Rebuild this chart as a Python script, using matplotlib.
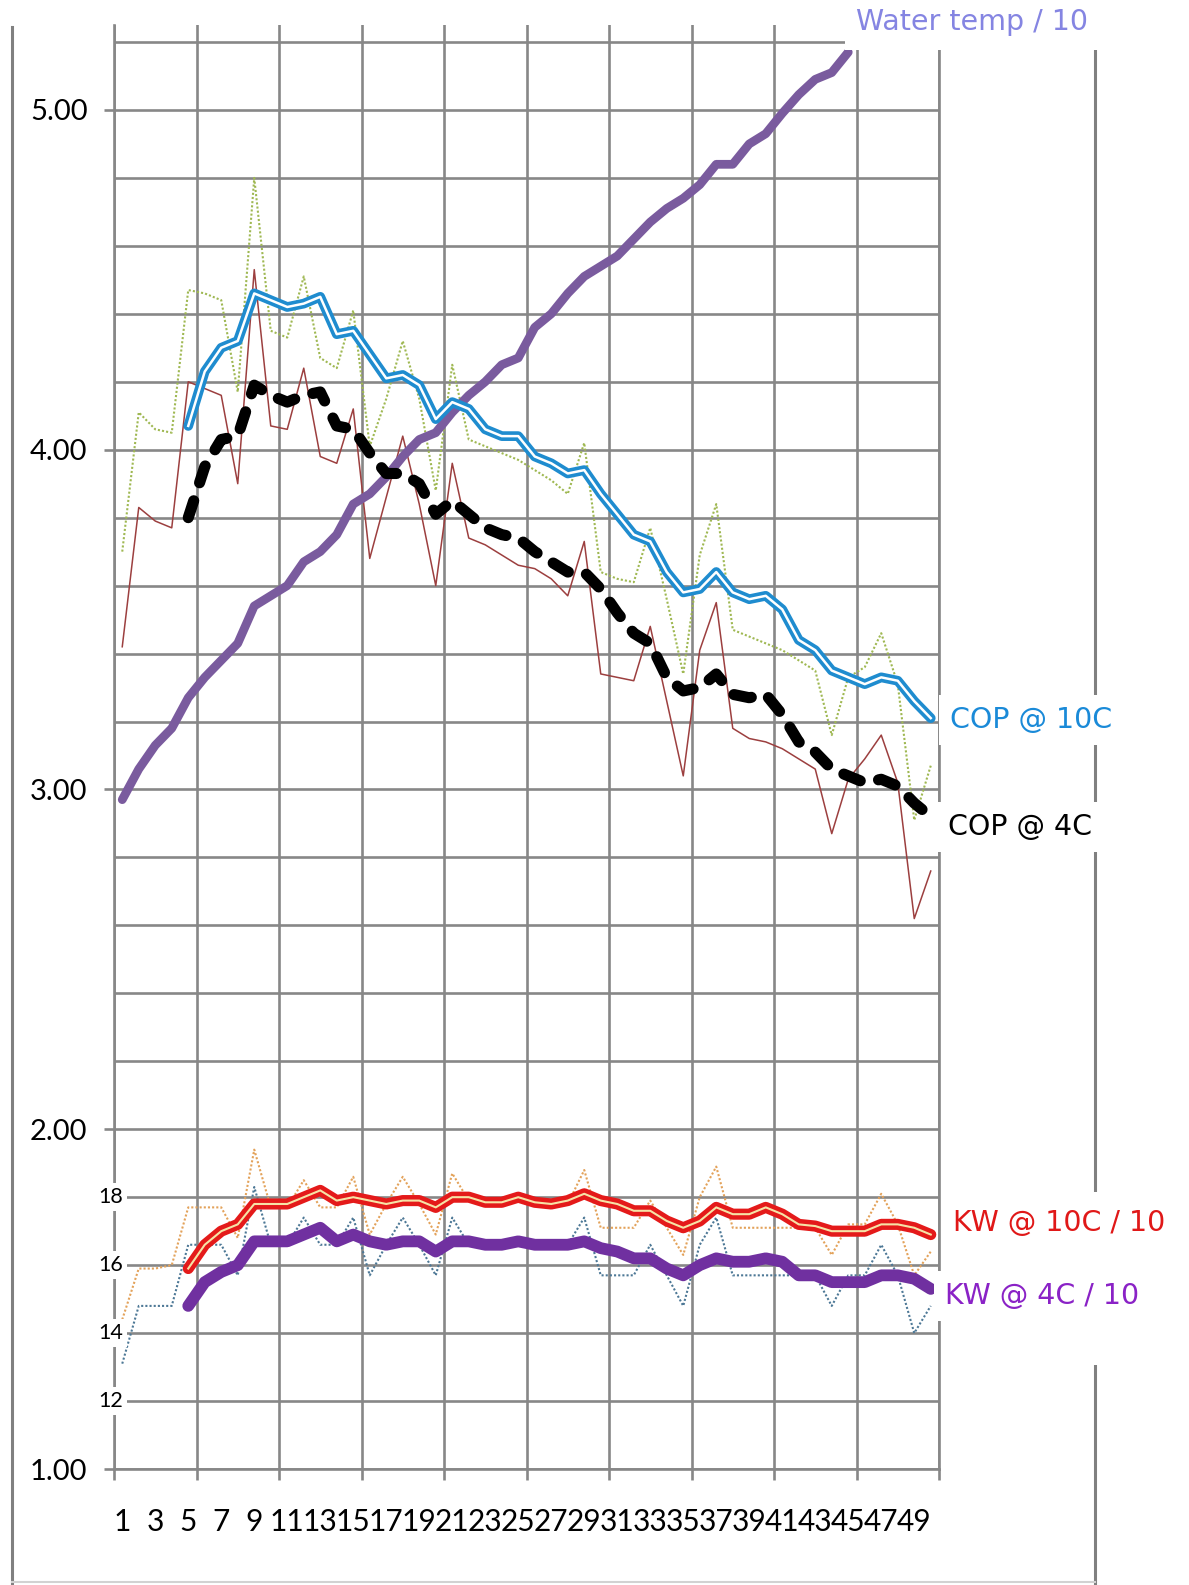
import matplotlib.pyplot as plt
from matplotlib.ticker import FixedLocator, FixedFormatter
from matplotlib.lines import Line2D
from matplotlib.patches import Rectangle

W, H = 1189, 1585

# readings: day number 1..50
days = list(range(1, 51))
avg_days = list(range(5, 51))
temp_days = list(range(1, 46))

water_temp = [2.97, 3.06, 3.13, 3.18, 3.27, 3.33, 3.38, 3.43, 3.54, 3.57,
              3.60, 3.67, 3.70, 3.75, 3.84, 3.87, 3.92, 3.98, 4.03, 4.05,
              4.11, 4.16, 4.20, 4.25, 4.27, 4.36, 4.40, 4.46, 4.51, 4.54,
              4.57, 4.62, 4.67, 4.71, 4.74, 4.78, 4.84, 4.84, 4.90, 4.93,
              4.99, 5.045, 5.09, 5.11, 5.17]

cop_10c_raw = [3.70, 4.11, 4.06, 4.05, 4.47, 4.46, 4.44, 4.17, 4.80, 4.35,
               4.33, 4.51, 4.27, 4.24, 4.41, 4.01, 4.15, 4.32, 4.15, 3.88,
               4.25, 4.03, 4.01, 3.99, 3.97, 3.94, 3.91, 3.87, 4.02, 3.64,
               3.62, 3.61, 3.77, 3.56, 3.34, 3.69, 3.84, 3.47, 3.45, 3.43,
               3.41, 3.38, 3.35, 3.16, 3.33, 3.36, 3.46, 3.31, 2.91, 3.07]

cop_4c_raw = [3.42, 3.83, 3.79, 3.77, 4.20, 4.18, 4.16, 3.90, 4.53, 4.07,
              4.06, 4.24, 3.98, 3.96, 4.12, 3.68, 3.86, 4.04, 3.84, 3.60,
              3.96, 3.74, 3.72, 3.69, 3.66, 3.65, 3.62, 3.57, 3.73, 3.34,
              3.33, 3.32, 3.48, 3.26, 3.04, 3.41, 3.55, 3.18, 3.15, 3.14,
              3.12, 3.09, 3.06, 2.87, 3.03, 3.09, 3.16, 3.02, 2.62, 2.76]

cop_10c_avg = [4.07, 4.23, 4.30, 4.32, 4.46, 4.44, 4.42, 4.43, 4.45, 4.34,
               4.35, 4.28, 4.21, 4.22, 4.19, 4.09, 4.14, 4.12, 4.06, 4.04,
               4.04, 3.98, 3.96, 3.93, 3.94, 3.87, 3.81, 3.75, 3.73, 3.64,
               3.58, 3.59, 3.64, 3.58, 3.56, 3.57, 3.53, 3.44, 3.41, 3.35,
               3.33, 3.31, 3.33, 3.32, 3.26, 3.21]

cop_4c_avg = [3.80, 3.95, 4.03, 4.04, 4.19, 4.16, 4.14, 4.16, 4.17, 4.07,
              4.06, 3.99, 3.93, 3.93, 3.90, 3.81, 3.85, 3.81, 3.77, 3.75,
              3.74, 3.70, 3.67, 3.64, 3.64, 3.59, 3.52, 3.46, 3.43, 3.33,
              3.29, 3.30, 3.34, 3.28, 3.27, 3.28, 3.22, 3.14, 3.11, 3.06,
              3.04, 3.02, 3.03, 3.01, 2.96, 2.92]

kw_10c_raw = [1.44, 1.59, 1.59, 1.60, 1.77, 1.77, 1.77, 1.68, 1.94, 1.77,
              1.77, 1.85, 1.77, 1.77, 1.86, 1.69, 1.78, 1.86, 1.78, 1.69,
              1.87, 1.79, 1.79, 1.79, 1.79, 1.79, 1.78, 1.78, 1.88, 1.71,
              1.71, 1.71, 1.79, 1.71, 1.63, 1.80, 1.89, 1.71, 1.71, 1.71,
              1.71, 1.71, 1.71, 1.63, 1.72, 1.72, 1.81, 1.72, 1.57, 1.64]

kw_4c_raw = [1.31, 1.48, 1.48, 1.48, 1.66, 1.66, 1.66, 1.57, 1.83, 1.66,
             1.66, 1.74, 1.66, 1.66, 1.74, 1.57, 1.66, 1.74, 1.66, 1.57,
             1.74, 1.66, 1.66, 1.66, 1.66, 1.66, 1.66, 1.66, 1.74, 1.57,
             1.57, 1.57, 1.66, 1.57, 1.48, 1.66, 1.74, 1.57, 1.57, 1.57,
             1.57, 1.57, 1.57, 1.48, 1.57, 1.57, 1.66, 1.57, 1.40, 1.48]

kw_10c_avg = [1.59, 1.66, 1.70, 1.72, 1.78, 1.78, 1.78, 1.80, 1.82, 1.79,
              1.80, 1.79, 1.78, 1.79, 1.79, 1.77, 1.80, 1.80, 1.785, 1.785,
              1.80, 1.785, 1.78, 1.79, 1.81, 1.79, 1.78, 1.76, 1.76, 1.73,
              1.71, 1.73, 1.77, 1.75, 1.75, 1.77, 1.75, 1.72, 1.715, 1.70,
              1.70, 1.70, 1.72, 1.72, 1.71, 1.69]

kw_4c_avg = [1.48, 1.55, 1.58, 1.60, 1.67, 1.67, 1.67, 1.69, 1.71, 1.67,
             1.69, 1.67, 1.66, 1.67, 1.67, 1.64, 1.67, 1.67, 1.66, 1.66,
             1.67, 1.66, 1.66, 1.66, 1.67, 1.65, 1.64, 1.62, 1.62, 1.59,
             1.57, 1.60, 1.62, 1.61, 1.61, 1.62, 1.61, 1.57, 1.57, 1.55,
             1.55, 1.55, 1.57, 1.57, 1.56, 1.53]

kw_labels = ["12", "14", "16", "18"]
kw_label_pos = [1.2, 1.4, 1.6, 1.8]


def fx(px):
    return px / W


def fy(py):
    return 1 - py / H


grid_col = "#878787"
tick_font = "Lato"
label_font = "DejaVu Sans"

fig = plt.figure(figsize=(W / 100, H / 100), dpi=100)
ax = fig.add_axes([fx(114), fy(1469), fx(939) - fx(114), fy(25) - fy(1469)])
ax.set_xlim(0.5, 50.5)
ax.set_ylim(1.0, 5.25)

# grid
ax.xaxis.set_major_locator(FixedLocator([0.5 + 5 * k for k in range(11)]))
ax.xaxis.set_minor_locator(FixedLocator(list(range(1, 50, 2))))
ax.xaxis.set_major_formatter(FixedFormatter([""] * 11))
ax.xaxis.set_minor_formatter(FixedFormatter([str(d) for d in range(1, 50, 2)]))
ax.yaxis.set_major_locator(FixedLocator([1, 2, 3, 4, 5]))
ax.yaxis.set_major_formatter(FixedFormatter(["1.00", "2.00", "3.00", "4.00", "5.00"]))
ax.yaxis.set_minor_locator(FixedLocator([1 + 0.2 * k for k in range(22)]))

ax.xaxis.grid(True, which="major", color=grid_col, lw=1.9)
ax.yaxis.grid(True, which="both", color=grid_col, lw=1.9)
ax.set_axisbelow(True)

ax.spines["top"].set_visible(False)
for side in ["left", "bottom", "right"]:
    ax.spines[side].set_color(grid_col)
    ax.spines[side].set_linewidth(1.9)

ax.tick_params(axis="x", which="major", length=8, width=1.9, color=grid_col)
ax.tick_params(axis="x", which="minor", length=0, pad=28, labelsize=21.5)
ax.tick_params(axis="y", which="major", length=7, width=1.9, color=grid_col,
               pad=12, labelsize=21)
ax.tick_params(axis="y", which="minor", length=0)
for lab in ax.get_xticklabels(minor=True) + ax.get_yticklabels():
    lab.set_fontfamily(tick_font)

# raw readings
ax.plot(days, cop_10c_raw, color="#9fb852", lw=1.5, ls=(0, (1, 1)), zorder=3)
ax.plot(days, cop_4c_raw, color="#9c3f3f", lw=1.1, zorder=3)
ax.plot(days, kw_10c_raw, color="#e3a25a", lw=1.5, ls=(0, (1, 1)), zorder=3)
ax.plot(days, kw_4c_raw, color="#4d7896", lw=1.5, ls=(0, (1, 1)), zorder=3)

# water temperature
ax.plot(temp_days, water_temp, color="#7a5b9e", lw=6.3, solid_capstyle="round",
        solid_joinstyle="round", zorder=4)

# averaged lines
ax.plot(avg_days, cop_10c_avg, color="#1f8ccf", lw=7, solid_joinstyle="round",
        solid_capstyle="round", zorder=5)
ax.plot(avg_days, cop_10c_avg, color="white", lw=1.8, zorder=5)
ax.plot(avg_days, cop_4c_avg, color="black", lw=8, ls=(0, (1.6, 1.7)),
        dash_capstyle="round", zorder=5)
ax.plot(avg_days, kw_10c_avg, color="#e41a1a", lw=8, solid_joinstyle="round",
        solid_capstyle="round", zorder=5)
ax.plot(avg_days, kw_10c_avg, color="#f6e3a6", lw=1.5, zorder=5)
ax.plot(avg_days, kw_4c_avg, color="#7030a0", lw=8.5, solid_joinstyle="round",
        solid_capstyle="round", zorder=5)

# kW scale labels on the axis
for txt, yv in zip(kw_labels, kw_label_pos):
    ax.text(0.3, yv, txt, ha="center", va="center", fontsize=15.5,
            fontfamily=tick_font, clip_on=False, zorder=6,
            bbox=dict(facecolor="white", edgecolor="none", pad=3))

# frame lines around the chart
fig.add_artist(Line2D([fx(12), fx(12)], [fy(27), fy(1585)], color="#808080", lw=2.2))
fig.add_artist(Line2D([fx(1095), fx(1095)], [fy(48), fy(1585)], color="#808080", lw=2.2))
fig.add_artist(Line2D([fx(12), fx(1095)], [fy(1582), fy(1582)], color="#d2d2d2", lw=1.5))

# white boxes behind the labels
fig.add_artist(Rectangle((fx(845), fy(50)), fx(1189) - fx(845), fy(0) - fy(50),
                         facecolor="white", edgecolor="none", zorder=8))
fig.add_artist(Rectangle((fx(1080), fy(1365)), fx(1110) - fx(1080), fy(1192) - fy(1365),
                         facecolor="white", edgecolor="none", zorder=8))

labels = [
    ("Water temp / 10", 856, 22, "#8585e2"),
    ("COP @ 10C", 950, 720, "#1a8ad8"),
    ("COP @ 4C", 948, 827, "black"),
    ("KW @ 10C / 10", 953, 1223, "#e01818"),
    ("KW @ 4C / 10", 945, 1296, "#8a22c6"),
]
for txt, px, py, col in labels:
    fig.text(fx(px), fy(py), txt, ha="left", va="center", color=col,
             fontsize=20.5, fontfamily=label_font, zorder=9,
             bbox=dict(facecolor="white", edgecolor="none", pad=8))

fig.savefig("out.png", dpi=100)
